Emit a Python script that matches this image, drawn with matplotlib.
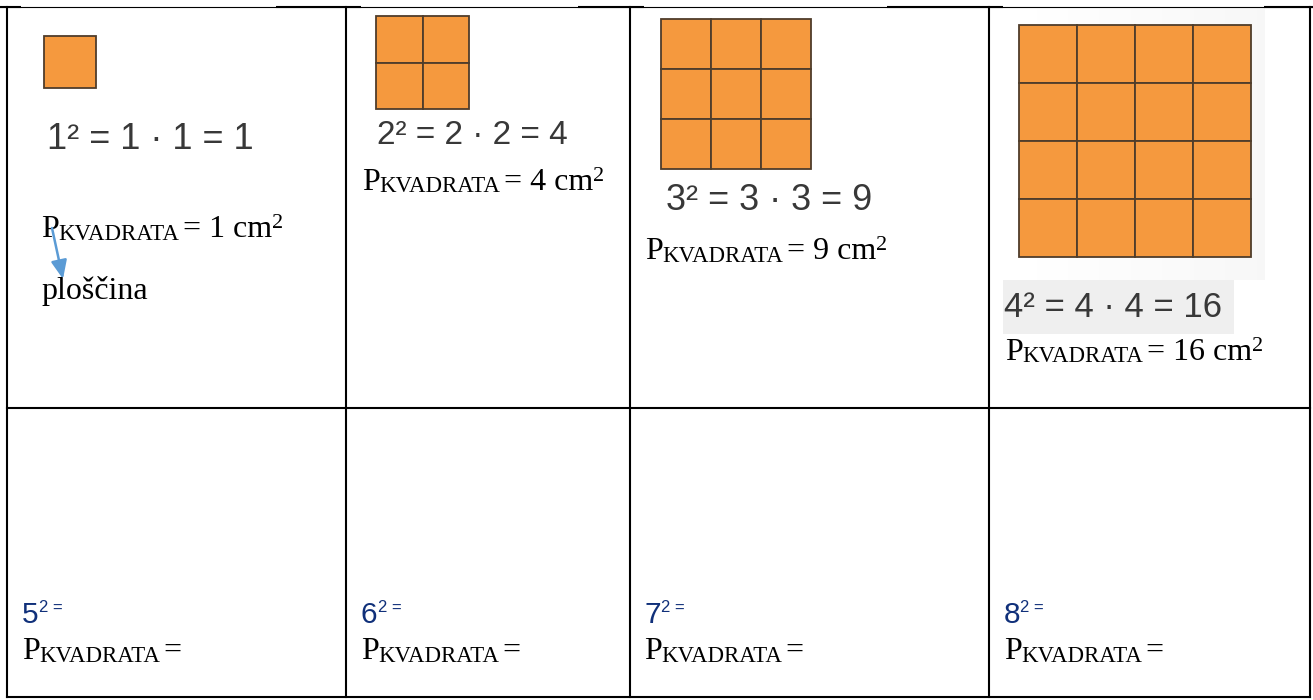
import numpy as np
import matplotlib
matplotlib.use("Agg")
import matplotlib.pyplot as plt
from matplotlib.patches import Rectangle

# ---------------- data ----------------
sides = [1, 2, 3, 4]            # side length (cm) of the drawn squares
areas = [1, 4, 9, 16]           # area in cm^2
empty_sides = [5, 6, 7, 8]      # exercises in the bottom row
sub_label = "KVADRATA"
unit_label = "cm"
area_word = "ploščina"

# ---------------- layout ----------------
W, H = 1313, 700
fig = plt.figure(figsize=(W / 100, H / 100), dpi=100)
ax = fig.add_axes([0, 0, 1, 1])
ax.set_xlim(0, W)
ax.set_ylim(H, 0)
ax.axis("off")
renderer = fig.canvas.get_renderer()

SANS = "Liberation Sans"
SERIF = "Liberation Serif"
ORANGE = "#F5993E"
EDGE = "#4F3D2B"
EQ_COL = "#383838"
NAVY = "#10307A"

col_x = [7, 346, 630, 989, 1310]
row_y = [7, 408, 697]

# grid squares: (left, top, total size) per top cell
sq_boxes = [(44, 36, 52), (376, 16, 93), (661, 19, 150), (1019, 25, 232)]
# equation text: (x, baseline, fontsize)
eq_pos = [(47, 149, 26), (377, 144, 24), (666, 210, 26), (1004, 317, 25)]
# P line: (x, baseline)
p_pos = [(41, 237), (362, 190), (645, 259), (1005, 360)]
P_SIZE = 23
SUB_SIZE = 16.5
SUP_SIZE = 16


def run(x, y, parts):
    for p in parts:
        if p[0] is None:
            x += p[1]
            continue
        s, size, dy, fam, color = p
        t = ax.text(x, y + dy, s, fontsize=size, fontfamily=fam, color=color,
                    ha="left", va="baseline")
        x += t.get_window_extent(renderer).width
    return x


# faint picture background in last cell
grad = np.linspace(1.0, 0.968, 64)[None, :].repeat(4, axis=0)
ax.imshow(grad, cmap="gray", vmin=0, vmax=1, extent=(1003, 1265, 280, 8),
          aspect="auto", zorder=0, interpolation="bilinear")
ax.add_patch(Rectangle((1003, 280), 231, 54, facecolor="#EFEFEF",
                       edgecolor="none", zorder=0.5))

# squares made of unit cells
for n, (x0, y0, size) in zip(sides, sq_boxes):
    u = size / n
    for i in range(n):
        for j in range(n):
            ax.add_patch(Rectangle((x0 + i * u, y0 + j * u), u, u,
                                   facecolor=ORANGE, edgecolor=EDGE,
                                   linewidth=1.3, zorder=2))

# equations n² = n · n = area
for n, a, (x, y, fs) in zip(sides, areas, eq_pos):
    ax.text(x, y, f"{n}² = {n} · {n} = {a}", fontsize=fs, fontfamily=SANS,
            color=EQ_COL, ha="left", va="baseline", zorder=3)

# P_KVADRATA = a cm²
for a, (x, y) in zip(areas, p_pos):
    run(x, y, [("P", P_SIZE, 0, SERIF, "black"),
               (sub_label, SUB_SIZE, 2.5, SERIF, "black"),
               (None, 3),
               (f"= {a} {unit_label}", P_SIZE, 0, SERIF, "black"),
               ("2", SUP_SIZE, -9, SERIF, "black")])

# "ploščina" with arrow
ax.text(41, 299, area_word, fontsize=P_SIZE, fontfamily=SERIF, color="black",
        ha="left", va="baseline")
ax.annotate("", xy=(63, 279), xytext=(52, 228),
            arrowprops=dict(arrowstyle="-|>,head_length=0.7,head_width=0.3",
                            color="#5B9BD5", lw=1.8,
                            mutation_scale=16, shrinkA=0, shrinkB=0), zorder=4)

# bottom row exercises
bx = [22, 361, 644, 1004]
for n, x in zip(empty_sides, bx):
    run(x, 623, [(f"{n}", 21.5, 0, SANS, NAVY),
                 ("2 =", 12, -11, SANS, NAVY)])
    run(x, 659, [("P", P_SIZE, 0, SERIF, "black"),
                 (sub_label, SUB_SIZE, 2.5, SERIF, "black"),
                 (None, 3),
                 ("=", P_SIZE, 0, SERIF, "black")])

# table lines
LW = 1.5
for x in col_x:
    ax.plot([x, x], [row_y[0], row_y[-1]], color="black", lw=LW,
            solid_capstyle="projecting", zorder=5)
ax.plot([col_x[0], col_x[-1]], [row_y[1]] * 2, color="black", lw=LW, zorder=5)
ax.plot([col_x[0], col_x[-1]], [row_y[2]] * 2, color="black", lw=LW, zorder=5)
# top border: thin where pictures overlap it
ax.plot([0, W], [6.5, 6.5], color="black", lw=0.8, zorder=5)
thick = [(0, 21), (276, 361), (578, 644), (887, 1003), (1264, W)]
for a0, a1 in thick:
    ax.plot([a0, a1], [7, 7], color="black", lw=LW, zorder=5,
            solid_capstyle="butt")

fig.savefig("out.png", dpi=100)
